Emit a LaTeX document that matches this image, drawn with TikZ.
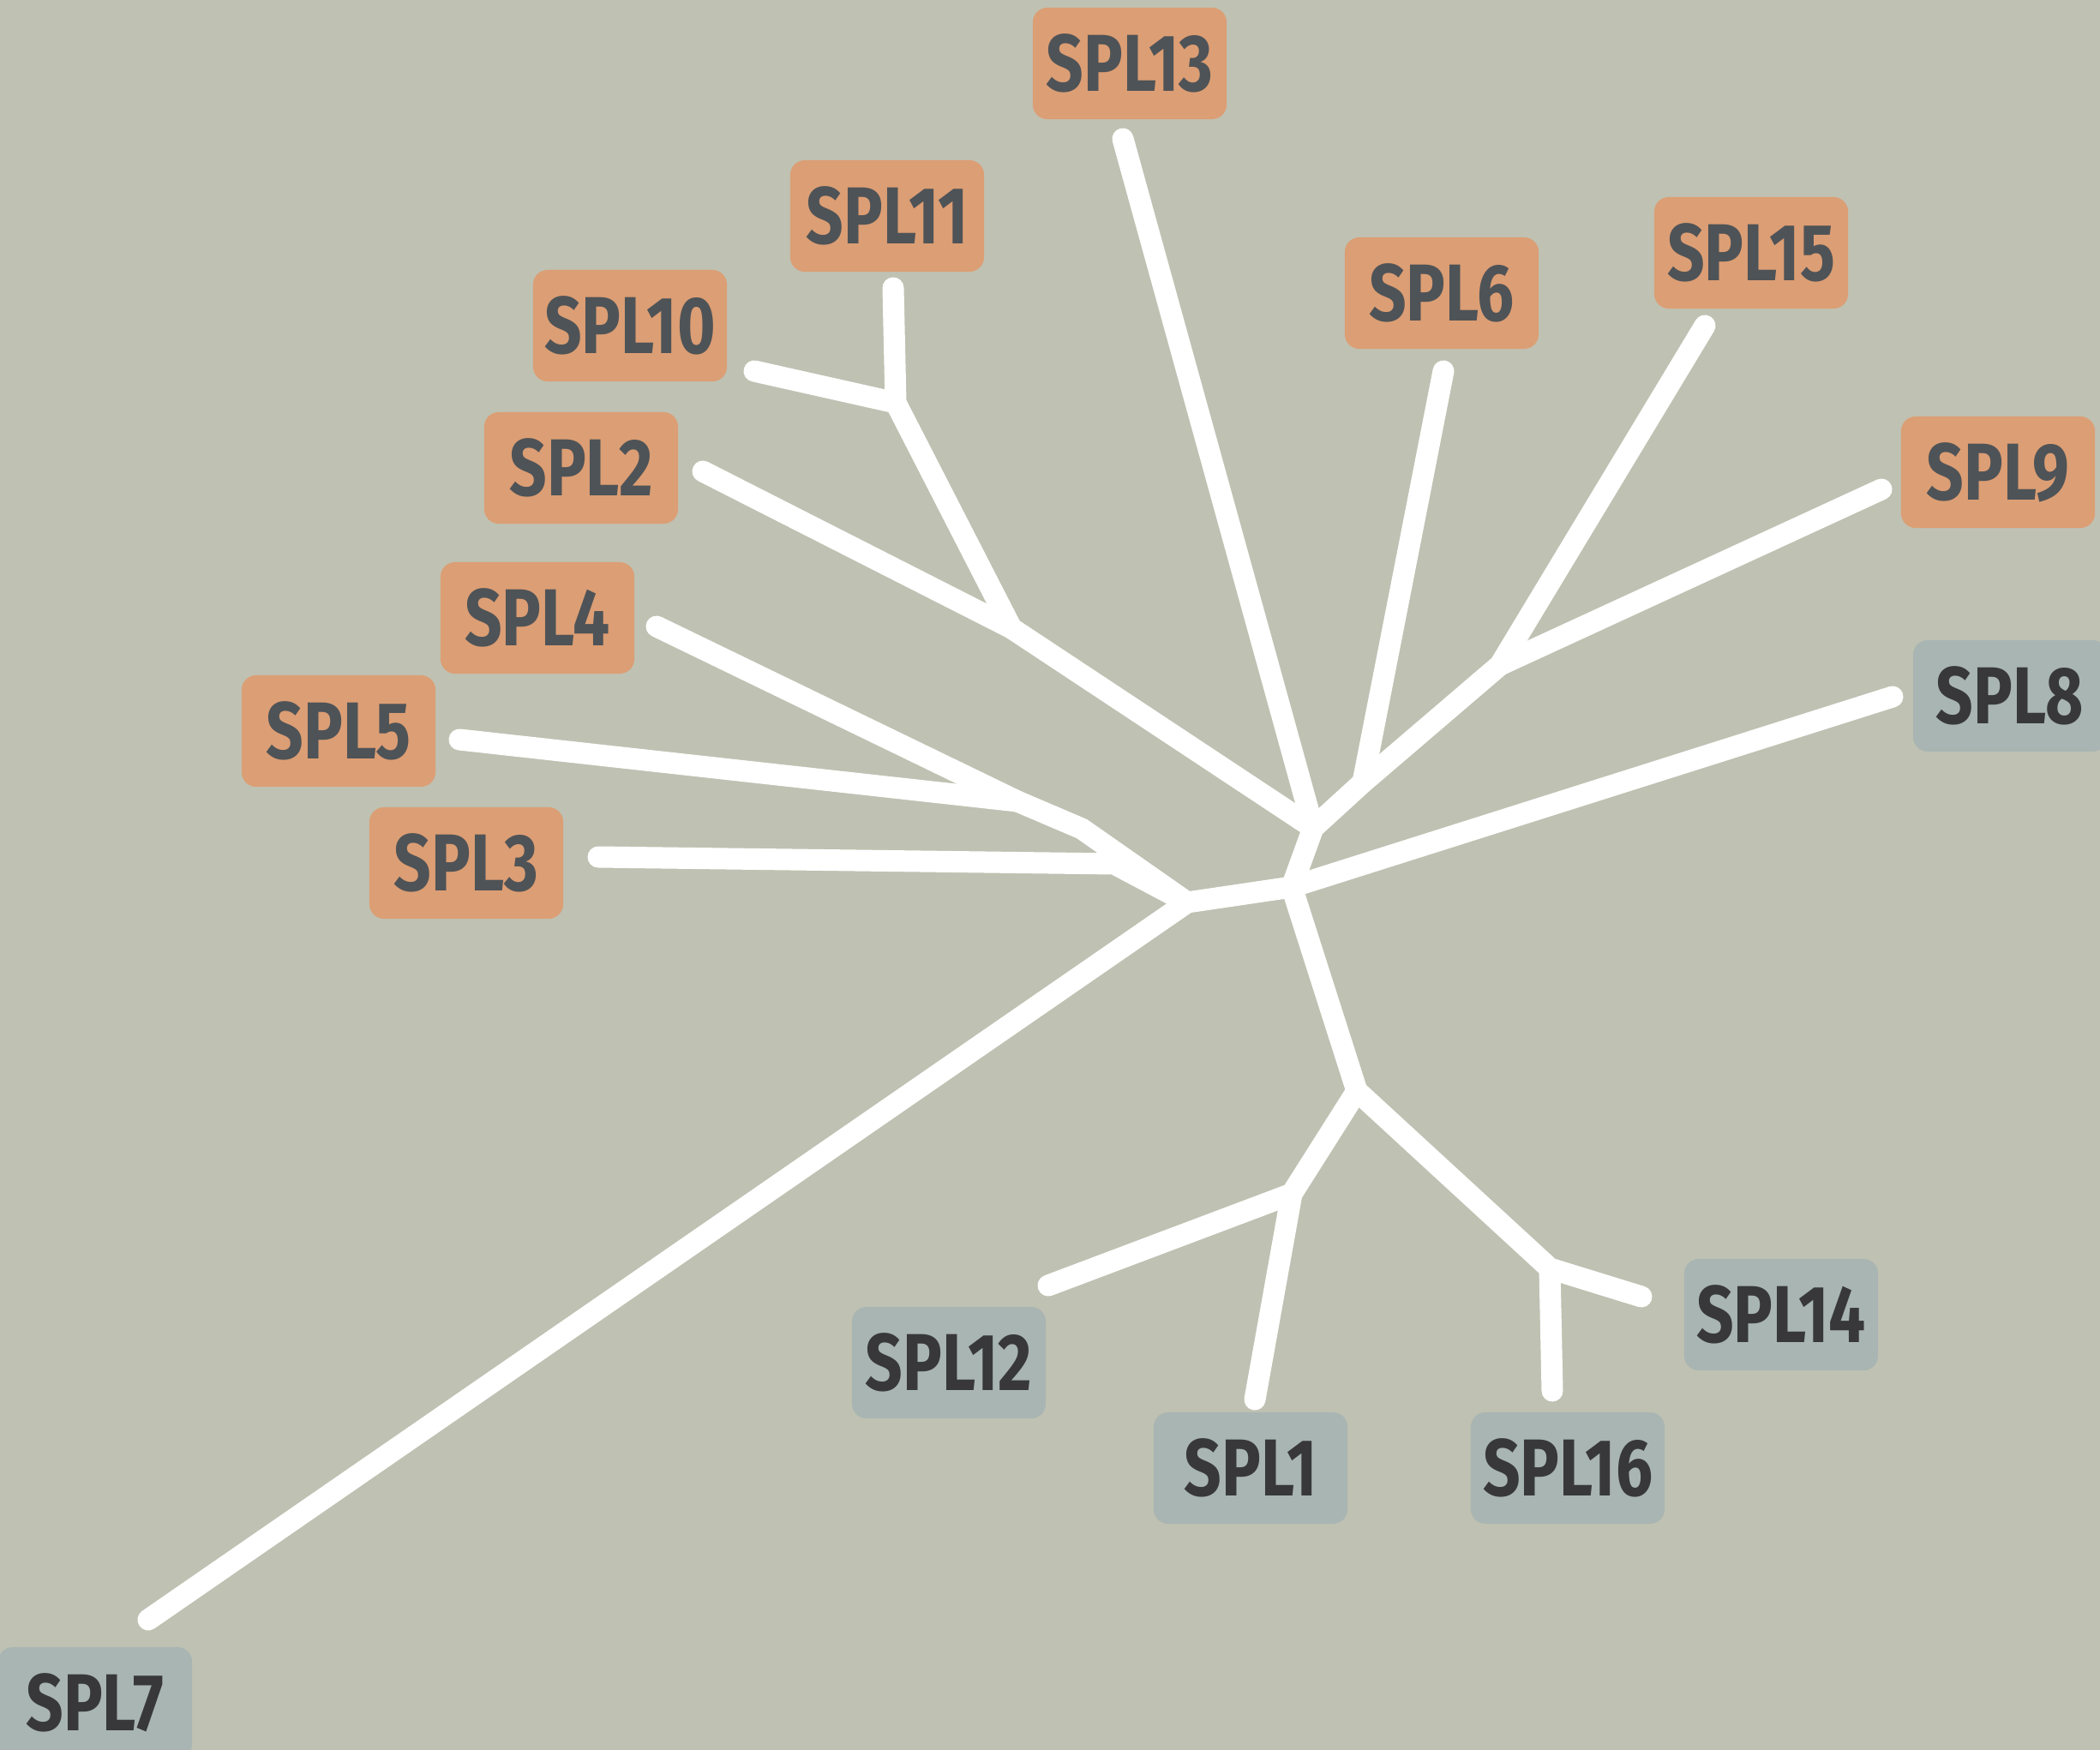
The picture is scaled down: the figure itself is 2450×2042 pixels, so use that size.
\documentclass[tikz,border=0pt]{standalone}
\usepackage{fontspec}
\usepackage{tikz}
\usepackage{xcolor}
\newfontfamily\splfont{Fira Sans}[FakeStretch=0.81]
\definecolor{bgsage}{HTML}{BFC1B2}
\definecolor{warmbox}{HTML}{DC9E74}
\definecolor{coolbox}{HTML}{A9B5B2}
\definecolor{warmtext}{HTML}{4E5357}
\definecolor{cooltext}{HTML}{38383B}
\tikzset{
  warm/.style={fill=warmbox,text=warmtext},
  cool/.style={fill=coolbox,text=cooltext},
  branch/.style={draw=white,line width=0.25cm,line cap=round,line join=miter},
}

\begin{document}
\begin{tikzpicture}[x=0.01cm,y=-0.01cm,every node/.style={font=\splfont\bfseries\fontsize{26.8}{30}\selectfont,
  rounded corners=0.17cm,minimum width=2.26cm,minimum height=1.3cm,inner sep=0pt}]
\useasboundingbox (0,0) rectangle (2450,2042);
\clip (0,0) rectangle (2450,2042);
\fill[bgsage] (0,0) rectangle (2450,2042);

% labels
\node[warm] (n13) at (1318,74) {SPL13};
\node[warm] (n11) at (1035,252) {SPL11};
\node[warm] (n10) at (735,380) {SPL10};
\node[warm] (n6) at (1682,342) {SPL6};
\node[warm] (n15) at (2043,295) {SPL15};
\node[warm] (n2) at (678,546) {SPL2};
\node[warm] (n9) at (2331,551) {SPL9};
\node[warm] (n4) at (627,721) {SPL4};
\node[warm] (n5) at (395,853) {SPL5};
\node[warm] (n3) at (544,1007) {SPL3};
\node[cool] (n8) at (2345,812) {SPL8};
\node[cool] (n12) at (1107,1590) {SPL12};
\node[cool] (n14) at (2078,1534) {SPL14};
\node[cool] (n1) at (1459,1713) {SPL1};
\node[cool] (n16) at (1829,1713) {SPL16};
\node[cool] (n7) at (111,1987) {SPL7};

% leaf tips
\coordinate (l13) at (1310,162);
\coordinate (l11) at (1042,336);
\coordinate (l10) at (880,433);
\coordinate (l2) at (820,550);
\coordinate (l4) at (766,731);
\coordinate (l5) at (536,863);
\coordinate (l3) at (698,1000);
\coordinate (l7) at (173,1890);
\coordinate (l6) at (1684,433);
\coordinate (l15) at (1989,380);
\coordinate (l9) at (2195,571);
\coordinate (l8) at (2208,813);
\coordinate (l12) at (1223,1500);
\coordinate (l1) at (1464,1633);
\coordinate (l16) at (1811,1623);
\coordinate (l14) at (1915,1513);

% inner junctions
\coordinate (j11) at (1045,470);
\coordinate (j2) at (1180,733);
\coordinate (ja) at (1532,966);
\coordinate (jc) at (1507,1035);
\coordinate (jl) at (1385,1053);
\coordinate (j45) at (1187,935);
\coordinate (j45b) at (1262,967);
\coordinate (j3) at (1300,1008);
\coordinate (jb) at (1590,913);
\coordinate (jc2) at (1750,776);
\coordinate (jd) at (1583,1273);
\coordinate (je) at (1507,1393);
\coordinate (jf) at (1808,1480);

% branches
\draw[branch] (l7) -- (jl) -- (jc) -- (ja) -- (j2) -- (j11) -- (l11);
\draw[branch] (l10) -- (j11);
\draw[branch] (l2) -- (j2);
\draw[branch] (l13) -- (ja);
\draw[branch] (l4) -- (j45) -- (j45b) -- (jl);
\draw[branch] (l5) -- (j45);
\draw[branch] (l3) -- (j3) -- (jl);
\draw[branch] (ja) -- (jb) -- (jc2) -- (l15);
\draw[branch] (l6) -- (jb);
\draw[branch] (l9) -- (jc2);
\draw[branch] (jc) -- (l8);
\draw[branch] (jc) -- (jd) -- (jf) -- (l14);
\draw[branch] (jf) -- (l16);
\draw[branch] (jd) -- (je) -- (l12);
\draw[branch] (je) -- (l1);
\end{tikzpicture}
\end{document}
